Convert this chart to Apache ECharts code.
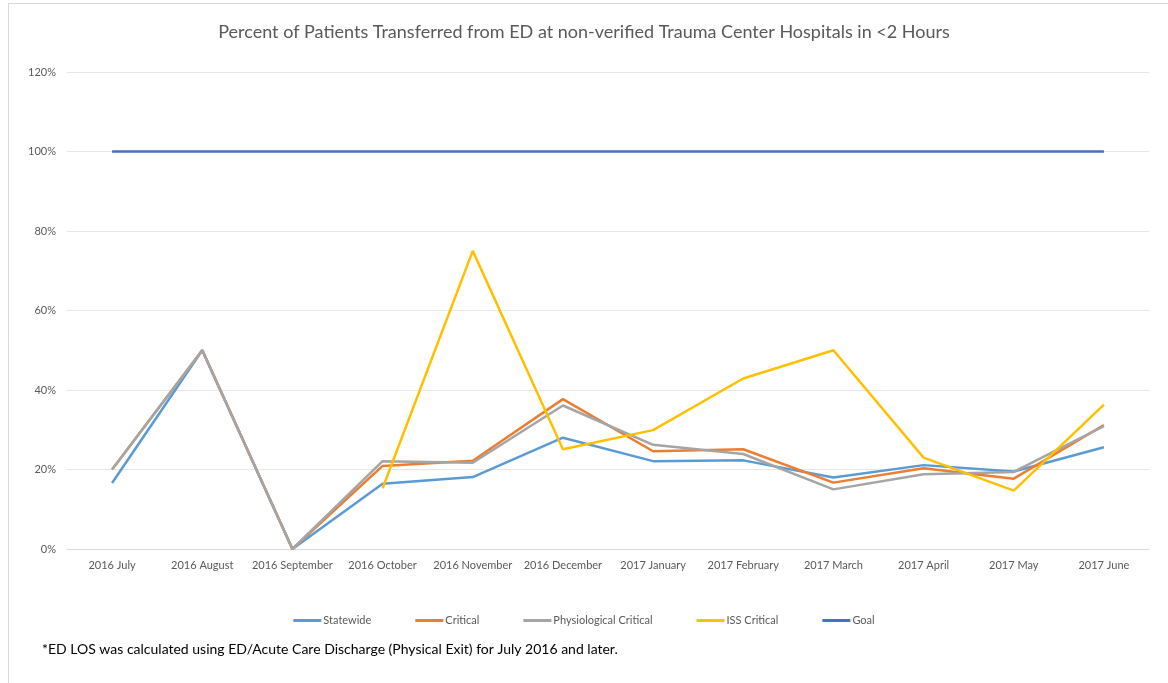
<!DOCTYPE html>
<html>
<head>
<meta charset="utf-8">
<script src="https://cdn.jsdelivr.net/npm/echarts@6/dist/echarts.min.js"></script>
<style>
  html, body { margin: 0; padding: 0; background: #ffffff; }
  #chart { width: 1168px; height: 683px; }
</style>
</head>
<body>
<div id="chart"></div>
<script>
// months on the x axis
var months = ['2016 July', '2016 August', '2016 September', '2016 October', '2016 November', '2016 December',
  '2017 January', '2017 February', '2017 March', '2017 April', '2017 May', '2017 June'];

// percent values
var statewide = [16.6, 50, 0, 16.4, 18.1, 28.0, 22.1, 22.3, 18.0, 21.1, 19.5, 25.6];
var critical = [20, 50, 0, 20.9, 22.2, 37.7, 24.6, 25.1, 16.7, 20.3, 17.7, 31.2];
var physCritical = [20, 50, 0, 22.1, 21.7, 36.1, 26.2, 23.9, 15.0, 18.8, 19.4, 30.9];
var issCritical = [null, null, null, 15.3, 75, 25.1, 29.9, 42.9, 50, 23.0, 14.7, 36.3];
var goal = [100, 100, 100, 100, 100, 100, 100, 100, 100, 100, 100, 100];

var seriesNames = ['Statewide', 'Critical', 'Physiological Critical', 'ISS Critical', 'Goal'];
var seriesColors = ['#5B9BD5', '#ED7D31', '#A5A5A5', '#FFC000', '#4472C4'];
var seriesData = [statewide, critical, physCritical, issCritical, goal];

var font = 'Lato, "Open Sans", sans-serif';

var chart = echarts.init(document.getElementById('chart'));

var series = seriesNames.map(function (name, i) {
  return {
    name: name,
    type: 'line',
    data: seriesData[i],
    symbol: 'none',
    connectNulls: false,
    lineStyle: { width: 2.5, color: seriesColors[i] },
    itemStyle: { color: seriesColors[i] },
    z: i === 4 ? 1 : 2 + i
  };
});

chart.setOption({
  animation: false,
  backgroundColor: '#ffffff',
  textStyle: { fontFamily: font },
  title: {
    text: 'Percent of Patients Transferred from ED at non-verified Trauma Center Hospitals in <2 Hours',
    left: 'center',
    top: 18,
    textStyle: { fontFamily: font, fontSize: 18, fontWeight: 'normal', color: '#595959' }
  },
  legend: {
    data: seriesNames,
    bottom: 52,
    left: 'center',
    itemWidth: 28,
    itemHeight: 3,
    itemGap: 44,
    icon: 'rect',
    textStyle: { fontFamily: font, fontSize: 11, color: '#595959', padding: [0, 0, 0, -3] }
  },
  grid: { left: 67, right: 19, top: 72, bottom: 134 },
  xAxis: {
    type: 'category',
    data: months,
    boundaryGap: true,
    axisLine: { show: true, lineStyle: { color: '#d9d9d9' } },
    axisTick: { show: false },
    axisLabel: { fontFamily: font, fontSize: 11, color: '#595959', margin: 11, interval: 0 }
  },
  yAxis: {
    type: 'value',
    min: 0,
    max: 120,
    interval: 20,
    axisLine: { show: false },
    axisTick: { show: false },
    axisLabel: { fontFamily: font, fontSize: 11, color: '#595959', margin: 11, formatter: '{value}%' },
    splitLine: { lineStyle: { color: '#e6e6e6', width: 1 } }
  },
  graphic: [
    {
      type: 'rect',
      left: 6, top: 1,
      shape: { width: 1160, height: 700 },
      style: { fill: 'none', stroke: '#d9d9d9', lineWidth: 1 },
      silent: true
    },
    {
      type: 'text',
      left: 42, top: 642,
      style: {
        text: '*ED LOS was calculated using ED/Acute Care Discharge (Physical Exit) for July 2016 and later.',
        fontFamily: font, fontSize: 14, fill: '#000000'
      }
    }
  ],
  series: series
});
</script>
</body>
</html>
